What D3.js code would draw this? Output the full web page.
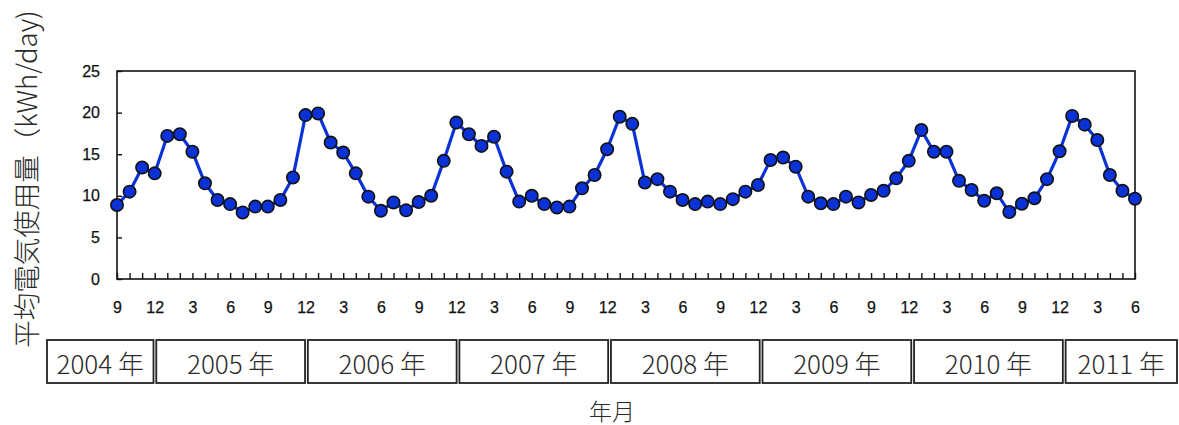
<!DOCTYPE html>
<html>
<head>
<meta charset="utf-8">
<script src="https://cdn.jsdelivr.net/npm/d3@7"></script>
<style>
  html, body { margin: 0; padding: 0; background: #fff; }
  svg { display: block; }
</style>
</head>
<body>
<svg id="chart" width="1179" height="425"></svg>
<script>
// Monthly average electricity use, Sep 2004 – Jun 2011
const months = [
  9, 10, 11, 12,
  1, 2, 3, 4, 5, 6, 7, 8, 9, 10, 11, 12,
  1, 2, 3, 4, 5, 6, 7, 8, 9, 10, 11, 12,
  1, 2, 3, 4, 5, 6, 7, 8, 9, 10, 11, 12,
  1, 2, 3, 4, 5, 6, 7, 8, 9, 10, 11, 12,
  1, 2, 3, 4, 5, 6, 7, 8, 9, 10, 11, 12,
  1, 2, 3, 4, 5, 6, 7, 8, 9, 10, 11, 12,
  1, 2, 3, 4, 5, 6
];
const usage = [
  8.9, 10.5, 13.4, 12.7,
  17.2, 17.4, 15.3, 11.5, 9.5, 9.0, 8.0, 8.7, 8.7, 9.5, 12.2, 19.7,
  19.9, 16.4, 15.2, 12.7, 9.9, 8.2, 9.2, 8.25, 9.25, 10.0, 14.2, 18.8,
  17.4, 16.0, 17.1, 12.9, 9.3, 10.0, 9.0, 8.6, 8.7, 10.9, 12.5, 15.6,
  19.5, 18.65, 11.6, 12.0, 10.5, 9.5, 9.0, 9.3, 9.0, 9.6, 10.5, 11.3,
  14.3, 14.6, 13.5, 9.9, 9.1, 9.0, 9.9, 9.2, 10.1, 10.6, 12.1, 14.2,
  17.9, 15.3, 15.3, 11.8, 10.7, 9.4, 10.3, 8.05, 9.05, 9.7, 12.0, 15.35,
  19.6, 18.55, 16.7, 12.5, 10.6, 9.65
];
const yTicks = [0, 5, 10, 15, 20, 25];
const years = ["2004 年", "2005 年", "2006 年", "2007 年", "2008 年", "2009 年", "2010 年", "2011 年"];
const yAxisTitle = "平均電気使用量（kWh/day)";
const xAxisTitle = "年月";

const svg = d3.select("#chart");
const plot = { left: 117, right: 1135, top: 71, bottom: 279 };

const x = d3.scaleLinear().domain([0, usage.length - 1]).range([plot.left, plot.right]);
const y = d3.scaleLinear().domain([0, 25]).range([plot.bottom, plot.top]);

const tickFont = sel => sel
  .attr("font-family", "Liberation Sans, Arial, sans-serif")
  .attr("font-size", 16).attr("fill", "#111")
  .attr("stroke", "#111").attr("stroke-width", 0.25);

// plot frame
svg.append("rect")
  .attr("x", plot.left).attr("y", plot.top)
  .attr("width", plot.right - plot.left).attr("height", plot.bottom - plot.top)
  .attr("fill", "none").attr("stroke", "#111").attr("stroke-width", 1.6);

// y axis: ticks point inward
const yAxis = d3.axisLeft(y).tickValues(yTicks).tickSizeInner(-5).tickSizeOuter(0).tickPadding(17);
const gy = svg.append("g").attr("transform", `translate(${plot.left},0)`).call(yAxis);
gy.select(".domain").remove();
gy.selectAll(".tick line").attr("stroke", "#111").attr("stroke-width", 1.4);
gy.selectAll(".tick text").call(tickFont);

// x axis: a tick at every month, labels every third month
const idx = d3.range(usage.length);
const xAxis = d3.axisBottom(x).tickValues(idx).tickSizeInner(-6).tickSizeOuter(0).tickPadding(23)
  .tickFormat(i => (months[i] % 3 === 0 ? String(months[i]) : ""));
const gx = svg.append("g").attr("transform", `translate(0,${plot.bottom})`).call(xAxis);
gx.select(".domain").remove();
gx.selectAll(".tick line").attr("stroke", "#111").attr("stroke-width", 1.4);
gx.selectAll(".tick text").call(tickFont);

// series line
const line = d3.line().x((d, i) => x(i)).y(d => y(d));
svg.append("path").datum(usage)
  .attr("d", line).attr("fill", "none")
  .attr("stroke", "#0a32d6").attr("stroke-width", 3.2).attr("stroke-linejoin", "round");

// markers
svg.append("g").selectAll("circle").data(usage).join("circle")
  .attr("cx", (d, i) => x(i)).attr("cy", d => y(d)).attr("r", 6.2)
  .attr("fill", "#0a32d6").attr("stroke", "#111").attr("stroke-width", 1.6);

// year band below the month labels
const xb = d3.scaleLinear().domain([0, usage.length - 1]).range([117, 1140]);
const decIdx = idx.filter(i => months[i] === 12);
const edges = [47].concat(decIdx.map(i => xb(i))).concat([1177]);
const bandTop = 340, bandBottom = 383;
const boxes = years.map((label, k) => {
  const l = k === 0 ? edges[0] : edges[k] + 1.4;
  const r = k === years.length - 1 ? edges[k + 1] : edges[k + 1] - 1.4;
  return { label, l, r };
});
const gb = svg.append("g");
gb.selectAll("rect").data(boxes).join("rect")
  .attr("x", d => d.l).attr("y", bandTop)
  .attr("width", d => d.r - d.l).attr("height", bandBottom - bandTop)
  .attr("fill", "#fff").attr("stroke", "#222").attr("stroke-width", 1.8);
gb.selectAll("text").data(boxes).join("text")
  .attr("x", d => (d.l + d.r) / 2).attr("y", (bandTop + bandBottom) / 2 + 1)
  .attr("text-anchor", "middle").attr("dominant-baseline", "central")
  .attr("font-family", "Noto Sans CJK JP, sans-serif").attr("font-weight", 300)
  .attr("font-size", 26).attr("fill", "#2a2a2a")
  .text(d => d.label);

// axis titles
svg.append("text")
  .attr("transform", "translate(25,179) rotate(-90)")
  .attr("text-anchor", "middle").attr("dominant-baseline", "central")
  .attr("font-family", "Noto Sans CJK JP, sans-serif").attr("font-weight", 300)
  .attr("font-size", 27.5).attr("fill", "#2a2a2a")
  .text(yAxisTitle);
svg.append("text")
  .attr("x", 612).attr("y", 410)
  .attr("text-anchor", "middle").attr("dominant-baseline", "central")
  .attr("font-family", "Noto Sans CJK JP, sans-serif").attr("font-weight", 300)
  .attr("font-size", 23).attr("fill", "#2a2a2a")
  .text(xAxisTitle);
</script>
</body>
</html>
